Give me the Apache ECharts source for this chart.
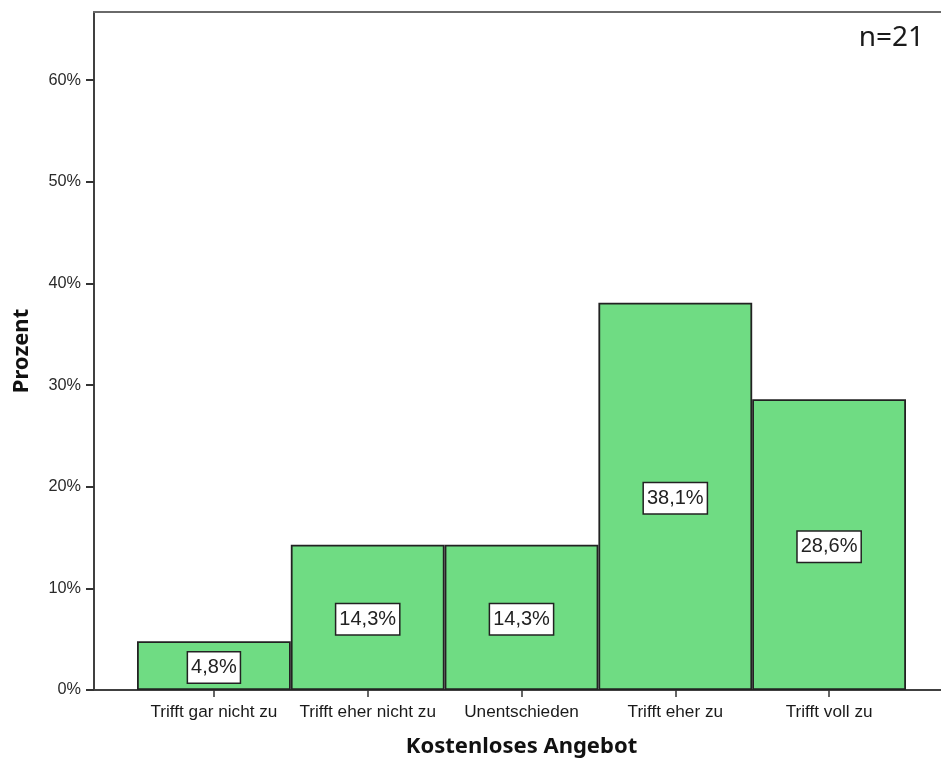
<!DOCTYPE html>
<html>
<head>
<meta charset="utf-8">
<script src="https://cdn.jsdelivr.net/npm/echarts@6/dist/echarts.min.js"></script>
<style>html,body{margin:0;padding:0;background:#fff;}#c{width:941px;height:763px;}</style>
</head>
<body>
<div id="c"></div>
<script>
var categories = ['Trifft gar nicht zu', 'Trifft eher nicht zu', 'Unentschieden', 'Trifft eher zu', 'Trifft voll zu'];
var percents = [4.8, 14.3, 14.3, 38.1, 28.6];
var yTicks = [0, 10, 20, 30, 40, 50, 60];
var yMin = 0, yMax = 66.7;
var xTitle = 'Kostenloses Angebot';
var yTitle = 'Prozent';
var noteText = 'n=21';

var chart = echarts.init(document.getElementById('c'), null, {renderer: 'canvas'});
var lineStyle = {color: '#404040', width: 2};
chart.setOption({
  animation: false,
  backgroundColor: '#ffffff',
  grid: [
    {left: 94, right: 0, top: 12, bottom: 73},
    {left: 137, right: 35, top: 12, bottom: 73}
  ],
  graphic: [{
    type: 'text', right: 17, top: 24,
    style: {text: noteText, font: '28px "Noto Sans"', fill: '#1a1a1a'}
  }],
  xAxis: [
    {type: 'value', gridIndex: 0, min: 0, max: 1, position: 'bottom',
     axisLine: {show: true, lineStyle: lineStyle}, axisTick: {show: false}, axisLabel: {show: false}, splitLine: {show: false}},
    {type: 'value', gridIndex: 0, min: 0, max: 1, position: 'top',
     axisLine: {show: true, lineStyle: {color: '#6a6a6a', width: 2}}, axisTick: {show: false}, axisLabel: {show: false}, splitLine: {show: false}},
    {type: 'category', gridIndex: 1, data: categories, position: 'bottom',
     axisLine: {show: false},
     axisTick: {show: true, alignWithLabel: true, interval: 0, length: 7, lineStyle: {color: '#333', width: 1.5}},
     axisLabel: {interval: 0, fontFamily: '"Liberation Sans", Arial, sans-serif', fontSize: 17.2, color: '#1a1a1a', margin: 14},
     name: xTitle, nameLocation: 'middle', nameGap: 46,
     nameTextStyle: {fontFamily: '"Noto Sans", sans-serif', fontWeight: 'bold', fontSize: 22, color: '#111'}}
  ],
  yAxis: [
    {type: 'value', gridIndex: 0, min: yMin, max: yMax,
     axisLine: {show: true, lineStyle: lineStyle},
     axisTick: {show: true, length: 8, customValues: yTicks, lineStyle: {color: '#333', width: 2}},
     axisLabel: {fontFamily: '"Liberation Sans", Arial, sans-serif', fontSize: 16.3, color: '#2a2a2a', margin: 13,
                 customValues: yTicks, formatter: '{value}%'},
     splitLine: {show: false},
     name: yTitle, nameLocation: 'middle', nameGap: 61, nameRotate: 90,
     nameTextStyle: {fontFamily: '"Noto Sans", sans-serif', fontWeight: 'bold', fontSize: 22, color: '#111'}},
    {type: 'value', gridIndex: 1, min: yMin, max: yMax, show: false, splitLine: {show: false}}
  ],
  series: [{
    type: 'bar', xAxisIndex: 2, yAxisIndex: 1,
    data: percents, barWidth: '100%', barGap: '0%',
    itemStyle: {color: '#6fdc83', borderColor: '#222', borderWidth: 1.8},
    label: {
      show: true, position: 'inside', offset: [0, 2],
      formatter: function (p) { return p.value.toFixed(1).replace('.', ',') + '%'; },
      fontFamily: '"Liberation Sans", Arial, sans-serif', fontSize: 20, color: '#222',
      backgroundColor: '#ffffff', borderColor: '#222', borderWidth: 1.5, padding: [6, 3, 4, 3]
    }
  }]
});
</script>
</body>
</html>
